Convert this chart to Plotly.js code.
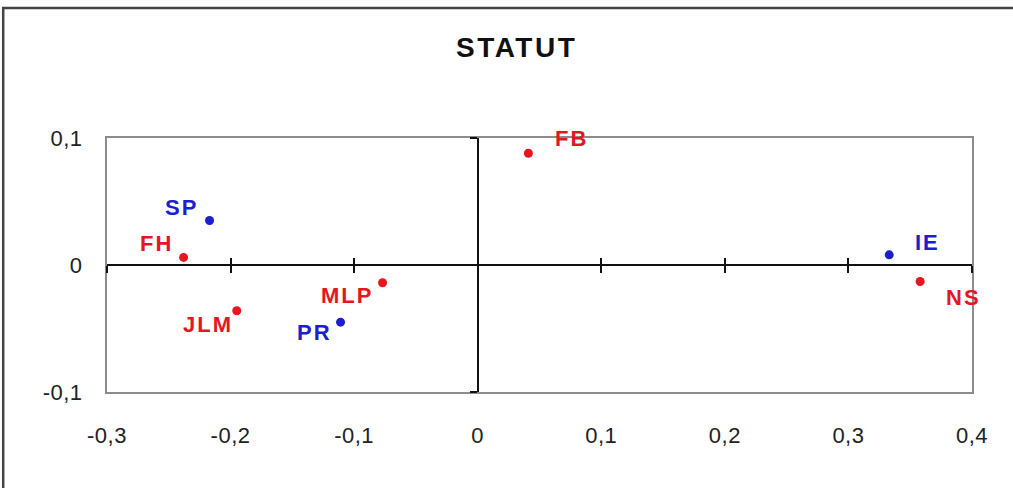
<!DOCTYPE html>
<html>
<head>
<meta charset="utf-8">
<script src="https://cdn.plot.ly/plotly-3.0.1.min.js"></script>
<style>
    html, body { margin: 0; padding: 0; background: #fff; }
    #chart { width: 1013px; height: 488px; }
    /* the original Excel export has loosely spaced letters */
    #chart .gtitle { letter-spacing: 2.5px; }
    #chart .annotation-text { letter-spacing: 2px; }
    #chart .xtick text, #chart .ytick text { letter-spacing: 0.5px; }
</style>
</head>
<body>
<div id="chart"></div>
<script>
// points of the STATUT plane
let names = ['FB', 'SP', 'FH', 'IE', 'NS', 'MLP', 'JLM', 'PR']
let xVals = [0.041, -0.217, -0.238, 0.333, 0.358, -0.077, -0.195, -0.111]
let yVals = [0.088, 0.035, 0.006, 0.008, -0.013, -0.014, -0.036, -0.045]
let groups = ['r', 'b', 'r', 'b', 'r', 'r', 'r', 'b']

let xTicks = [-0.3, -0.2, -0.1, 0, 0.1, 0.2, 0.3, 0.4]
let xTickText = ['-0,3', '-0,2', '-0,1', '0', '0,1', '0,2', '0,3', '0,4']
let yTicks = [-0.1, 0, 0.1]
let yTickText = ['-0,1', '0', '0,1']

// label offsets in pixels (dx, dy), kept apart from the data
let labelShift = {
    FB: [43, 15], SP: [-28, 13], FH: [-27, 14], IE: [38, 12],
    NS: [43, -16], MLP: [-36, -13], JLM: [-29, -14], PR: [-26, -10]
}

let red = '#e5161f'
let blue = '#1c20cc'
let font = 'Liberation Sans, Arial, sans-serif'

let colors = groups.map(g => g === 'r' ? red : blue)

let trace = {
    x: xVals,
    y: yVals,
    type: 'scatter',
    mode: 'markers',
    marker: {color: colors, size: 9},
    hoverinfo: 'skip'
}

let annotations = names.map((n, i) => ({
    x: xVals[i],
    y: yVals[i],
    text: '<b>' + n + '</b>',
    showarrow: false,
    xshift: labelShift[n][0],
    yshift: labelShift[n][1],
    font: {family: font, size: 22, color: colors[i]}
}))

let cross = {color: '#111', width: 2}

let layout = {
    width: 1013,
    height: 488,
    margin: {l: 107, r: 41, t: 138, b: 96},
    paper_bgcolor: '#fff',
    plot_bgcolor: '#fff',
    showlegend: false,
    title: {
        text: '<b>STATUT</b>',
        x: 0.51,
        xref: 'container',
        y: 0.924,
        yref: 'container',
        font: {family: font, size: 28, color: '#111'}
    },
    font: {family: font, size: 22, color: '#222'},
    xaxis: {
        range: [-0.3, 0.4],
        tickvals: xTicks,
        ticktext: xTickText,
        showgrid: false,
        zeroline: false,
        showline: true,
        mirror: true,
        linecolor: '#8c8c8c',
        linewidth: 2,
        ticks: '',
        ticklabelstandoff: 23,
        fixedrange: true
    },
    yaxis: {
        range: [-0.1, 0.1],
        tickvals: yTicks,
        ticktext: yTickText,
        showgrid: false,
        zeroline: false,
        showline: true,
        mirror: true,
        linecolor: '#8c8c8c',
        linewidth: 2,
        ticks: '',
        ticklabelstandoff: 18,
        fixedrange: true
    },
    // axes crossing at zero, with crossing tick marks
    xaxis2: {
        overlaying: 'x', anchor: 'free', position: 0.5, matches: 'x',
        tickvals: xTicks, showticklabels: false, showgrid: false, zeroline: false,
        showline: true, linecolor: cross.color, linewidth: cross.width,
        ticks: 'outside', ticklen: 7, tickwidth: 2, tickcolor: cross.color
    },
    xaxis3: {
        overlaying: 'x', anchor: 'free', position: 0.5, matches: 'x',
        tickvals: xTicks, showticklabels: false, showgrid: false, zeroline: false,
        showline: false, ticks: 'inside', ticklen: 7, tickwidth: 2, tickcolor: cross.color
    },
    yaxis2: {
        overlaying: 'y', anchor: 'free', position: 3 / 7, matches: 'y',
        tickvals: yTicks, showticklabels: false, showgrid: false, zeroline: false,
        showline: true, linecolor: cross.color, linewidth: cross.width,
        ticks: 'outside', ticklen: 7, tickwidth: 2, tickcolor: cross.color
    },
    yaxis3: {
        overlaying: 'y', anchor: 'free', position: 3 / 7, matches: 'y',
        tickvals: yTicks, showticklabels: false, showgrid: false, zeroline: false,
        showline: false, ticks: 'inside', ticklen: 7, tickwidth: 2, tickcolor: cross.color
    },
    shapes: [{
        type: 'rect', xref: 'paper', yref: 'paper',
        x0: -0.12, x1: 1.2, y0: -0.6, y1: 1.512,
        line: {color: '#444', width: 2.5}, fillcolor: 'rgba(0,0,0,0)', layer: 'below'
    }],
    annotations: annotations
}

// helper traces so the overlay axes get drawn
let axisTraces = [
    {x: [null], y: [null], xaxis: 'x2', yaxis: 'y2', type: 'scatter', hoverinfo: 'skip'},
    {x: [null], y: [null], xaxis: 'x3', yaxis: 'y3', type: 'scatter', hoverinfo: 'skip'}
]

Plotly.newPlot('chart', [...axisTraces, trace], layout, {displayModeBar: false, staticPlot: true})
</script>
</body>
</html>
